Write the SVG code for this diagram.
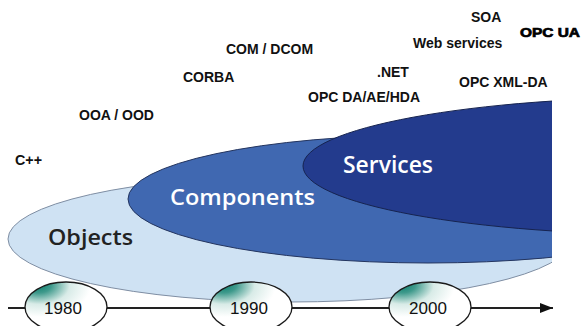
<svg xmlns="http://www.w3.org/2000/svg" width="582" height="326" viewBox="0 0 582 326">
<defs>
<clipPath id="clip"><rect x="0" y="0" width="552" height="326"/></clipPath>
<radialGradient id="yearGrad" cx="0.18" cy="0.08" r="0.62" fx="0.16" fy="0.06">
<stop offset="0" stop-color="#0b7e6e"/>
<stop offset="0.25" stop-color="#3f9a8c"/>
<stop offset="0.6" stop-color="#d8ebe7"/>
<stop offset="1" stop-color="#ffffff"/>
</radialGradient>
<marker id="arrow" markerWidth="14" markerHeight="12" refX="13" refY="6" orient="auto" markerUnits="userSpaceOnUse">
<polygon points="0,1 13,6 0,11" fill="#111"/>
</marker>
</defs>
<style>
.lbl{font-family:"Liberation Sans",Arial,sans-serif;font-weight:bold;font-size:14px;fill:#111}
.heavy{font-family:"Liberation Sans",Arial,sans-serif;font-weight:bold;font-size:13px;fill:#000;stroke:#000;stroke-width:0.7}
.big{font-family:"Open Sans","Noto Sans",sans-serif;font-weight:600}
.year{font-family:"Liberation Sans",Arial,sans-serif;font-size:17px;fill:#111;text-anchor:middle}
.yr{fill:url(#yearGrad);stroke:#1a1a1a;stroke-width:1.3}
</style>
<rect width="582" height="326" fill="#ffffff"/>

<g id="ellipses" clip-path="url(#clip)">
<g id="objects">
<ellipse cx="290" cy="239" rx="282" ry="63" fill="#cfe2f3" stroke="#7f8ea3" stroke-width="1"/>
</g>
<g id="components">
<ellipse cx="428" cy="199" rx="300" ry="64" fill="#4068b1" stroke="#24355f" stroke-width="1"/>
</g>
<g id="services">
<ellipse cx="679" cy="166" rx="376" ry="69" fill="#233b8d" stroke="#16234f" stroke-width="1"/>
</g>
</g>

<g id="big-labels">
<text class="big" x="48" y="245" font-size="22" fill="#222" textLength="85" lengthAdjust="spacingAndGlyphs">Objects</text>
<text class="big" x="170" y="205" font-size="21" fill="#ffffff" textLength="145" lengthAdjust="spacingAndGlyphs">Components</text>
<text class="big" x="343" y="173" font-size="23" fill="#ffffff" textLength="90" lengthAdjust="spacingAndGlyphs">Services</text>
</g>

<g id="connectors">
<line x1="8" y1="308" x2="553" y2="308" stroke="#222" stroke-width="2" marker-end="url(#arrow)"/>
</g>

<g id="year-1980">
<ellipse class="yr" cx="66" cy="307" rx="41" ry="25"/>
<text class="year" x="63" y="314">1980</text>
</g>
<g id="year-1990">
<ellipse class="yr" cx="251" cy="307" rx="41" ry="25"/>
<text class="year" x="249" y="314">1990</text>
</g>
<g id="year-2000">
<ellipse class="yr" cx="430" cy="307" rx="41" ry="25"/>
<text class="year" x="428" y="314">2000</text>
</g>

<g id="tech-labels">
<text class="lbl" x="15" y="165" font-size="11" textLength="27" lengthAdjust="spacingAndGlyphs">C++</text>
<text class="lbl" x="79" y="120">OOA / OOD</text>
<text class="lbl" x="183" y="82">CORBA</text>
<text class="lbl" x="226" y="54">COM / DCOM</text>
<text class="lbl" x="308" y="102">OPC DA/AE/HDA</text>
<text class="lbl" x="377" y="77">.NET</text>
<text class="lbl" x="413" y="48">Web services</text>
<text class="lbl" x="471" y="22">SOA</text>
<text class="lbl" x="459" y="87">OPC XML-DA</text>
<text class="heavy" x="520" y="37" textLength="60" lengthAdjust="spacingAndGlyphs">OPC UA</text>
</g>
</svg>
